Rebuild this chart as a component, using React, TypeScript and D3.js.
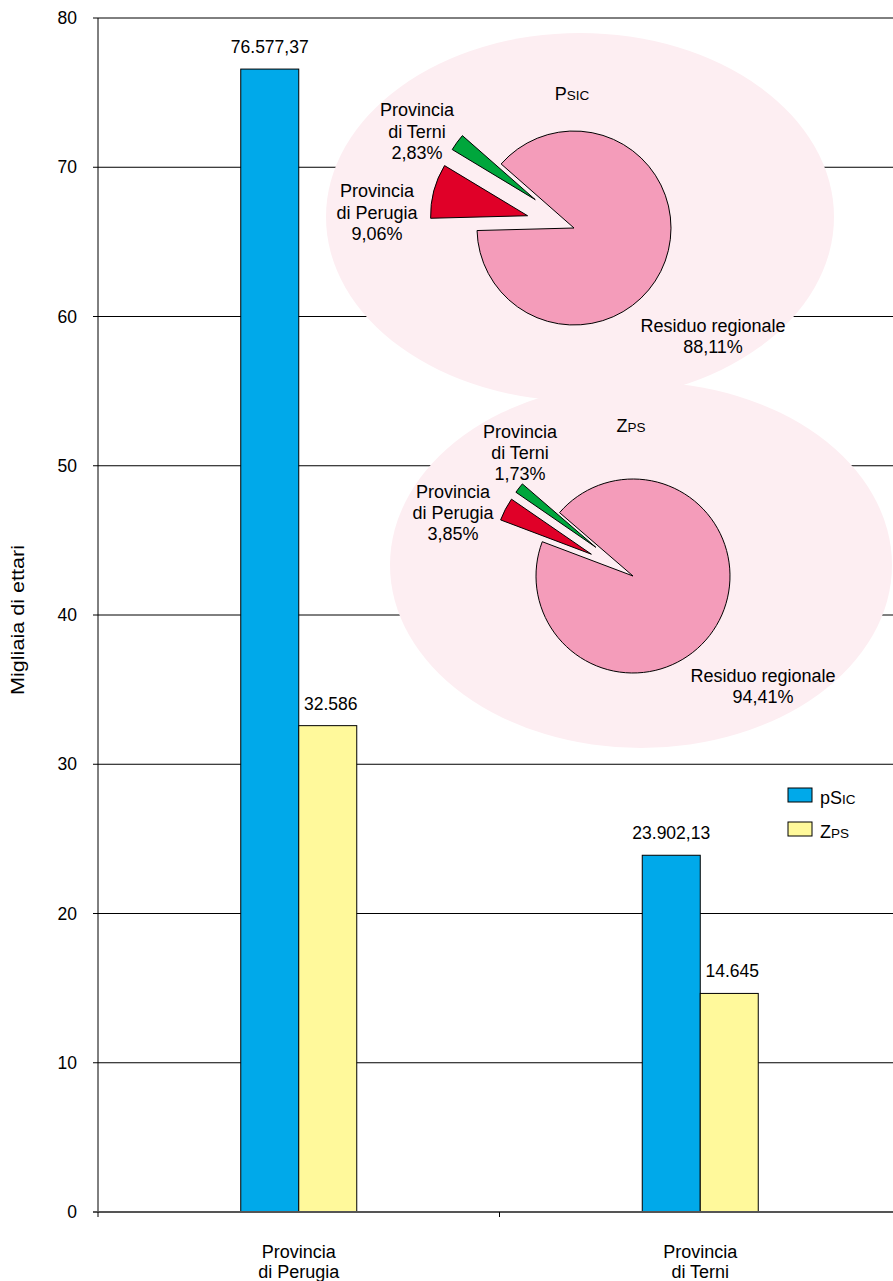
import React from "react";
import * as d3 from "d3";

// ---------- DATA ----------
const categories = ["Provincia|di Perugia", "Provincia|di Terni"];
const seriesKeys = ["psic", "zps"];
const psicValues = [76.57737, 23.90213];
const zpsValues = [32.586, 14.645];
const psicLabels = ["76.577,37", "23.902,13"];
const zpsLabels = ["32.586", "14.645"];
const yTicks = [0, 10, 20, 30, 40, 50, 60, 70, 80];

const pieNames = ["Provincia|di Perugia", "Provincia|di Terni", "Residuo regionale"];
const psicShares = [9.06, 2.83, 88.11];
const psicShareLabels = ["9,06%", "2,83%", "88,11%"];
const zpsShares = [3.85, 1.73, 94.41];
const zpsShareLabels = ["3,85%", "1,73%", "94,41%"];

// ---------- LAYOUT / STYLE ----------
const W = 893;
const H = 1281;
const FONT = "'Liberation Sans', Arial, Helvetica, sans-serif";
const BLUE = "#00a9ea";
const YELLOW = "#fff99b";
const PINK = "#f49cba";
const RED = "#e00028";
const GREEN = "#00a63c";
const BLOB = "#fdeef2";

const plot = { left: 98, right: 901, top: 18, bottom: 1212, gridRight: 893 };
const barW = 58;

const pieLayouts = [
  {
    cx: 574, cy: 228, r: 97, start: 268.5, explode: 48,
    ell: { cx: 580, cy: 217, rx: 254, ry: 184 },
    title: ["P", "SIC"], titleDy: -134,
    labelPos: [[-197, -16], [-157, -97], [139, 108]],
    lineH: 21.5,
  },
  {
    cx: 633, cy: 576, r: 97, start: 290.7, explode: 47,
    ell: { cx: 641, cy: 565, rx: 251, ry: 183 },
    title: ["Z", "PS"], titleDy: -150,
    labelPos: [[-180, -64], [-113, -124], [130, 110]],
    lineH: 21,
  },
];
const pieColors = [RED, GREEN, PINK];
const pieExploded = [true, true, false];

const rad = (d: number) => (d * Math.PI) / 180;

function SmallCaps({ x, y, big, small, size, smallSize, anchor }: any) {
  return (
    <text x={x} y={y} textAnchor={anchor || "start"} fontFamily={FONT} fontSize={size} fill="#000">
      {big}
      <tspan fontSize={smallSize}>{small}</tspan>
    </text>
  );
}

function Pie({ layout, shares, shareLabels }: any) {
  const pie = d3
    .pie<number>()
    .sort(null)
    .value((d) => d)
    .startAngle(rad(layout.start))
    .endAngle(rad(layout.start + 360));
  const arcs = pie(shares);
  const arc = d3.arc<any>().innerRadius(0).outerRadius(layout.r);
  return (
    <g>
      {arcs.map((a, i) => {
        const mid = (a.startAngle + a.endAngle) / 2;
        const off = pieExploded[i] ? layout.explode : 0;
        const dx = Math.sin(mid) * off;
        const dy = -Math.cos(mid) * off;
        return (
          <path
            key={i}
            d={arc(a) || ""}
            transform={`translate(${layout.cx + dx},${layout.cy + dy})`}
            fill={pieColors[i]}
            stroke="#000"
            strokeWidth={1}
            strokeLinejoin="round"
          />
        );
      })}
      <SmallCaps
        x={layout.cx - 2}
        y={layout.cy + layout.titleDy + 6}
        big={layout.title[0]}
        small={layout.title[1]}
        size={18}
        smallSize={13.5}
        anchor="middle"
      />
      {pieNames.map((n, i) => {
        const lines = [...n.split("|"), shareLabels[i]];
        const [lx, ly] = layout.labelPos[i];
        const y0 = layout.cy + ly - ((lines.length - 1) * layout.lineH) / 2;
        return (
          <text key={i} textAnchor="middle" fontFamily={FONT} fontSize={18} fill="#000">
            {lines.map((l, j) => (
              <tspan key={j} x={layout.cx + lx} y={y0 + j * layout.lineH + 6.5}>
                {l}
              </tspan>
            ))}
          </text>
        );
      })}
    </g>
  );
}

export default function App() {
  const y = d3.scaleLinear().domain([0, 80]).range([plot.bottom, plot.top]);
  const x = d3.scaleBand().domain(categories).range([plot.left, plot.right]).paddingInner(0);
  const xs = d3.scaleBand().domain(seriesKeys).range([0, barW * 2]);
  const values: Record<string, number[]> = { psic: psicValues, zps: zpsValues };
  const labels: Record<string, string[]> = { psic: psicLabels, zps: zpsLabels };
  const colors: Record<string, string> = { psic: BLUE, zps: YELLOW };

  return (
    <svg
      width={W}
      height={H}
      style={{ position: "absolute", left: 0, top: 0, background: "#fff" }}
      xmlns="http://www.w3.org/2000/svg"
    >
      <rect x={0} y={0} width={W} height={H} fill="#fff" />
      {/* gridlines */}
      {yTicks.filter((t) => t > 0).map((t) => (
        <line key={t} x1={plot.left} x2={plot.gridRight} y1={y(t)} y2={y(t)} stroke="#000" strokeWidth={1} />
      ))}
      {/* blobs */}
      {pieLayouts.map((p, i) => (
        <ellipse key={i} cx={p.ell.cx} cy={p.ell.cy} rx={p.ell.rx} ry={p.ell.ry} fill={BLOB} />
      ))}
      <Pie layout={pieLayouts[0]} shares={psicShares} shareLabels={psicShareLabels} />
      <Pie layout={pieLayouts[1]} shares={zpsShares} shareLabels={zpsShareLabels} />

      {/* bars */}
      {categories.map((c, ci) => {
        const cx = (x(c) as number) + x.bandwidth() / 2 - barW;
        return (
          <g key={c}>
            {seriesKeys.map((k) => {
              const v = values[k][ci];
              const bx = cx + (xs(k) as number);
              return (
                <g key={k}>
                  <rect
                    x={bx}
                    y={y(v)}
                    width={xs.bandwidth()}
                    height={y(0) - y(v)}
                    fill={colors[k]}
                    stroke="#000"
                    strokeWidth={1}
                  />
                  <text
                    x={bx + xs.bandwidth() / 2 + (k === "zps" ? 3 : 0)}
                    y={y(v) - 16}
                    textAnchor="middle"
                    fontFamily={FONT}
                    fontSize={17.5}
                    fill="#000"
                  >
                    {labels[k][ci]}
                  </text>
                </g>
              );
            })}
            <text textAnchor="middle" fontFamily={FONT} fontSize={18} fill="#000">
              {c.split("|").map((l, j) => (
                <tspan key={j} x={(x(c) as number) + x.bandwidth() / 2} y={1258 + j * 20}>
                  {l}
                </tspan>
              ))}
            </text>
          </g>
        );
      })}

      {/* y axis */}
      <line x1={plot.left} x2={plot.left} y1={plot.top} y2={plot.bottom} stroke="#000" strokeWidth={1} />
      {yTicks.map((t) => (
        <g key={t}>
          <line x1={plot.left - 5} x2={plot.left} y1={y(t)} y2={y(t)} stroke="#000" />
          <text x={77} y={y(t) + 6} textAnchor="end" fontFamily={FONT} fontSize={17.5} fill="#000">
            {t}
          </text>
        </g>
      ))}
      {/* x axis */}
      <line x1={plot.left - 5} x2={plot.gridRight} y1={y(0)} y2={y(0)} stroke="#555" strokeWidth={2} />
      {[plot.left, (x(categories[1]) as number)].map((tx, i) => (
        <line key={i} x1={tx} x2={tx} y1={y(0)} y2={y(0) + 5} stroke="#000" />
      ))}

      {/* y title */}
      <text
        transform={`translate(24,${620}) rotate(-90)`}
        textAnchor="middle"
        fontFamily={FONT}
        fontSize={18}
        textLength={150}
        lengthAdjust="spacingAndGlyphs"
        fill="#000"
      >
        Migliaia di ettari
      </text>

      {/* legend */}
      {seriesKeys.map((k, i) => (
        <g key={k}>
          <rect x={788} y={788 + i * 34} width={24} height={14} fill={colors[k]} stroke="#000" strokeWidth={1} />
          <SmallCaps
            x={820}
            y={804 + i * 34}
            big={k === "psic" ? "pS" : "Z"}
            small={k === "psic" ? "IC" : "PS"}
            size={18}
            smallSize={13.5}
          />
        </g>
      ))}
    </svg>
  );
}
